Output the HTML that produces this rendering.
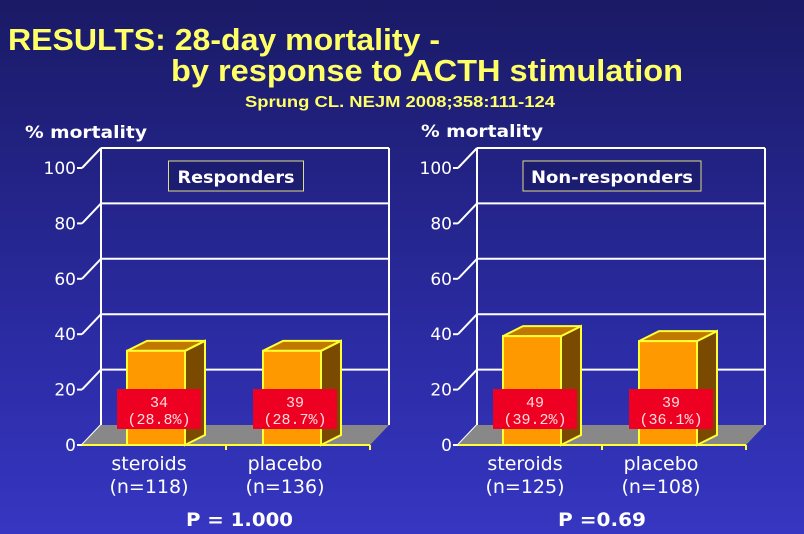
<!DOCTYPE html>
<html><head><meta charset="utf-8"><style>
body{margin:0;width:804px;height:534px;overflow:hidden;background:linear-gradient(#1a1a66,#2a2aa0 60%,#3636c2);font-family:"Liberation Sans",sans-serif}
svg{position:absolute;left:0;top:0}
</style></head><body>
<svg id="s" width="804" height="534">
<text x="8" y="50" fill="#ffff66" font-size="31" font-weight="bold" textLength="432" lengthAdjust="spacingAndGlyphs">RESULTS: 28-day mortality -</text>
<text x="171" y="81" fill="#ffff66" font-size="31" font-weight="bold" textLength="512" lengthAdjust="spacingAndGlyphs">by response to ACTH stimulation</text>
<text x="245" y="107" fill="#ffff66" font-size="16" font-weight="bold" textLength="310" lengthAdjust="spacingAndGlyphs">Sprung CL.  NEJM 2008;358:111-124</text>
<text x="25" y="138" fill="#fff" font-size="17" font-weight="bold" font-family="DejaVu Sans, sans-serif" textLength="122" lengthAdjust="spacingAndGlyphs">% mortality</text>
<text x="421" y="137" fill="#fff" font-size="17" font-weight="bold" font-family="DejaVu Sans, sans-serif" textLength="122" lengthAdjust="spacingAndGlyphs">% mortality</text>
<text x="186" y="526" fill="#fff" font-size="19" font-weight="bold" font-family="DejaVu Sans, sans-serif" textLength="107" lengthAdjust="spacingAndGlyphs">P = 1.000</text>
<text x="558" y="526" fill="#fff" font-size="19" font-weight="bold" font-family="DejaVu Sans, sans-serif" textLength="88" lengthAdjust="spacingAndGlyphs">P =0.69</text>
</svg>
<script>
const ticks=[0,20,40,60,80,100];
const categories=["steroids","placebo"];
const nLabels=[["(n=118)","(n=136)"],["(n=125)","(n=108)"]];
const respValues=[34,34];
const nonRespValues=[39.3,37.5];
const respLabels=[["34","(28.8%)"],["39","(28.7%)"]];
const nonRespLabels=[["49","(39.2%)"],["39","(36.1%)"]];
const svg=document.getElementById('s');
const NS='http://www.w3.org/2000/svg';
function el(t,a,txt){const e=document.createElementNS(NS,t);for(const k in a)e.setAttribute(k,a[k]);if(txt!==undefined)e.textContent=txt;svg.appendChild(e);return e;}
function chart(ox,title,values,labels,nl,key,bw,tw){
  const fx=ox, w=288, y0=445, h=277, dx=19, dy=-20;
  const ys=v=>y0-v/100*h;
  const xs=i=>fx+45+i*136;
  ticks.forEach(t=>{
    const y=ys(t);
    if(t>0){const l=el('line',{x1:fx+dx,y1:y+dy,x2:fx+w+dx,y2:y+dy,stroke:'#fff','stroke-width':2});
    }
    const d=el('line',{x1:fx,y1:y,x2:fx+dx,y2:y+dy,stroke:'#fff','stroke-width':2});
    
    const tl=el('line',{x1:fx-5,y1:y,x2:fx,y2:y,stroke:'#fff','stroke-width':2});
    
    const tx=el('text',{x:fx-6,y:y+6,fill:'#fff','font-size':17,'font-family':'DejaVu Sans, sans-serif','text-anchor':'end'},String(t));
    
  });
  const bl=el('line',{x1:fx+dx,y1:ys(100)+dy,x2:fx+dx,y2:y0+dy,stroke:'#fff','stroke-width':2});
  
  const br=el('line',{x1:fx+w+dx,y1:ys(100)+dy,x2:fx+w+dx,y2:y0+dy,stroke:'#fff','stroke-width':2});
  
  const fl=el('polygon',{points:`${fx},${y0} ${fx+dx},${y0+dy} ${fx+w+dx},${y0+dy} ${fx+w},${y0}`,fill:'#888'});
  
  const xa=el('line',{x1:fx,y1:y0,x2:fx+w,y2:y0,stroke:'#ffff33','stroke-width':2});
  
  [0.5,1].forEach((f,i)=>{const m=el('line',{x1:fx+w*f,y1:y0,x2:fx+w*f,y2:y0+5,stroke:'#ffff33','stroke-width':2});
    });
  const tb=el('rect',{x:fx+(w-bw)/2+10,y:161,width:bw,height:30,fill:'#1c1c70',stroke:'#dddd88','stroke-width':1});
  
  const tt=el('text',{x:fx+(w-tw)/2+10,y:183,fill:'#fff','font-size':17,'font-weight':'bold','font-family':'DejaVu Sans, sans-serif',textLength:tw,lengthAdjust:'spacingAndGlyphs'},title);
  
  values.forEach((v,i)=>{
    const x=xs(i), bw2=58, yt=ys(v), ddx=20, ddy=-10;
    const s=el('polygon',{points:`${x+bw2},${y0} ${x+bw2+ddx},${y0+ddy} ${x+bw2+ddx},${yt+ddy} ${x+bw2},${yt}`,fill:'#7a4a00',stroke:'#ffff33','stroke-width':2});
    
    const tp=el('polygon',{points:`${x},${yt} ${x+ddx},${yt+ddy} ${x+bw2+ddx},${yt+ddy} ${x+bw2},${yt}`,fill:'#c07800',stroke:'#ffff33','stroke-width':2});
    
    const f=el('rect',{x:x,y:yt,width:bw2,height:y0-yt,fill:'#ff9900',stroke:'#ffff33','stroke-width':2});
    
    const lb=el('rect',{x:x-10,y:389,width:84,height:40,fill:'#ee0022'});
    
    const l1=el('text',{x:x+32,y:407,fill:'#ffdddd','font-size':15,'text-anchor':'middle','font-family':'Liberation Mono, monospace'},labels[i][0]);
    
    const l2=el('text',{x:x+32,y:424,fill:'#ffdddd','font-size':15,'text-anchor':'middle','font-family':'Liberation Mono, monospace'},labels[i][1]);
    
    const c1=el('text',{x:x+22,y:470,fill:'#fff','font-size':19,'text-anchor':'middle','font-family':'DejaVu Sans, sans-serif'},categories[i]);
    
    const c2=el('text',{x:x+22,y:493,fill:'#fff','font-size':19,'text-anchor':'middle','font-family':'DejaVu Sans, sans-serif'},nl[i]);
    
  });
}
chart(82,"Responders",respValues,respLabels,nLabels[0],'responders',135,117);
chart(458,"Non-responders",nonRespValues,nonRespLabels,nLabels[1],'non-responders',178,162);
</script>
</body></html>
